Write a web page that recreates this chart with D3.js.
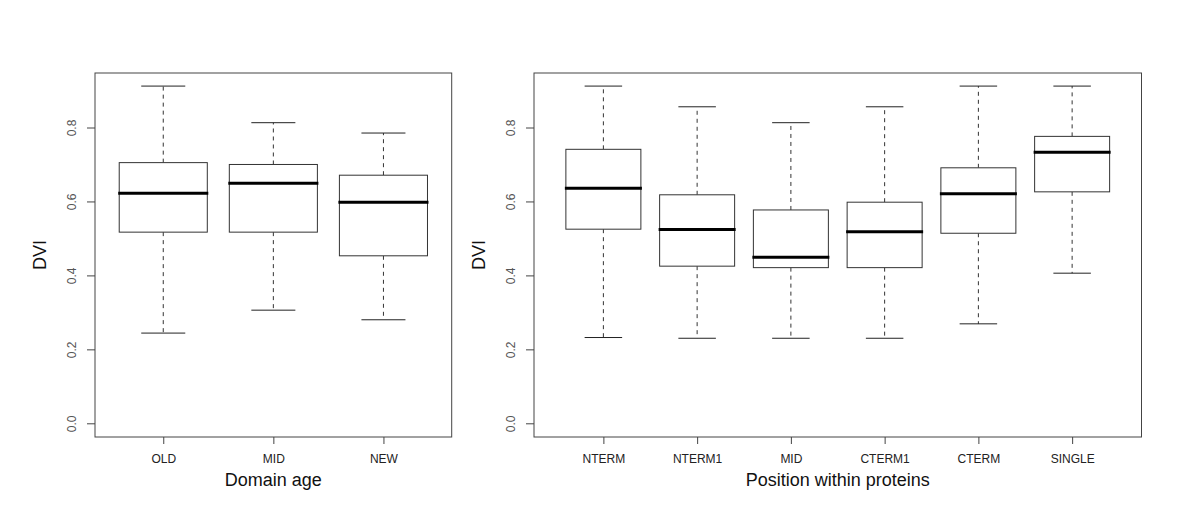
<!DOCTYPE html>
<html>
<head>
<meta charset="utf-8">
<script src="https://cdn.jsdelivr.net/npm/d3@7"></script>
<style>
  body { margin: 0; background: #fff; }
  svg { font-family: "Liberation Sans", Arial, sans-serif; }
</style>
</head>
<body>
<svg id="chart"></svg>
<script>
// Domain age panel
const ageCats = ["OLD", "MID", "NEW"];
const ageLow = [0.244, 0.306, 0.280];
const ageQ1 = [0.517, 0.517, 0.453];
const ageMed = [0.622, 0.649, 0.598];
const ageQ3 = [0.705, 0.700, 0.671];
const ageHigh = [0.912, 0.813, 0.785];

// Position within proteins panel
const posCats = ["NTERM", "NTERM1", "MID", "CTERM1", "CTERM", "SINGLE"];
const posLow = [0.232, 0.230, 0.230, 0.230, 0.269, 0.406];
const posQ1 = [0.525, 0.425, 0.421, 0.421, 0.514, 0.626];
const posMed = [0.636, 0.524, 0.449, 0.518, 0.621, 0.733];
const posQ3 = [0.741, 0.618, 0.577, 0.598, 0.691, 0.776];
const posHigh = [0.912, 0.856, 0.813, 0.856, 0.912, 0.912];

const yTicks = [0, 0.2, 0.4, 0.6, 0.8];

const width = 1200;
const height = 525;
const plotTop = 73, plotBottom = 437;

const svg = d3.select("#chart").attr("width", width).attr("height", height);

// same y scale for both panels (R pads the range by 4%)
const y = d3.scaleLinear()
    .domain([0, 0.8])
    .range([423.3, 127.5]);

function drawPanel(left, right, cats, low, q1, med, q3, high, xTitle) {
    const n = cats.length;
    const x = d3.scaleLinear()
        .domain([0.5 - 0.04 * n, n + 0.5 + 0.04 * n])
        .range([left, right]);
    const unit = x(2) - x(1);
    const boxW = unit * 0.8;
    const capW = boxW / 2;

    const data = cats.map((c, i) => ({
        c, i: i + 1, low: low[i], q1: q1[i], med: med[i], q3: q3[i], high: high[i]
    }));

    const g = svg.append("g");

    // whiskers
    ["high", "low"].forEach(k => {
        const from = k === "high" ? "q3" : "q1";
        g.append("g").selectAll("line").data(data).join("line")
            .attr("x1", d => x(d.i)).attr("x2", d => x(d.i))
            .attr("y1", d => y(d[from])).attr("y2", d => y(d[k]))
            .attr("stroke", "#333").attr("stroke-dasharray", "4,4");
    });

    // caps
    ["high", "low"].forEach(k => {
        g.append("g").selectAll("line").data(data).join("line")
            .attr("x1", d => x(d.i) - capW / 2).attr("x2", d => x(d.i) + capW / 2)
            .attr("y1", d => y(d[k])).attr("y2", d => y(d[k]))
            .attr("stroke", "#222");
    });

    // boxes
    g.append("g").selectAll("rect").data(data).join("rect")
        .attr("x", d => x(d.i) - boxW / 2)
        .attr("y", d => y(d.q3))
        .attr("width", boxW)
        .attr("height", d => y(d.q1) - y(d.q3))
        .attr("fill", "#fff")
        .attr("stroke", "#333");

    // medians
    g.append("g").selectAll("line").data(data).join("line")
        .attr("x1", d => x(d.i) - boxW / 2 - 1).attr("x2", d => x(d.i) + boxW / 2 + 1)
        .attr("y1", d => y(d.med)).attr("y2", d => y(d.med))
        .attr("stroke", "#000").attr("stroke-width", 3);

    // frame
    svg.append("rect")
        .attr("x", left).attr("y", plotTop)
        .attr("width", right - left).attr("height", plotBottom - plotTop)
        .attr("fill", "none").attr("stroke", "#444");

    // x axis
    const xAxis = svg.append("g")
        .attr("transform", `translate(0, ${plotBottom})`)
        .call(d3.axisBottom(x)
            .tickValues(d3.range(1, n + 1))
            .tickFormat(i => cats[i - 1])
            .tickSize(7).tickPadding(10));
    xAxis.select(".domain").remove();
    xAxis.selectAll("line").attr("stroke", "#444");
    xAxis.selectAll("text").attr("font-size", "12px").attr("fill", "#222");

    // y axis
    const yAxis = svg.append("g")
        .attr("transform", `translate(${left}, 0)`)
        .call(d3.axisLeft(y)
            .tickValues(yTicks)
            .tickFormat(d3.format(".1f"))
            .tickSize(8));
    yAxis.select(".domain").remove();
    yAxis.selectAll("line").attr("stroke", "#444");
    yAxis.selectAll("text")
        .attr("x", 0).attr("dy", "0.35em")
        .attr("transform", "translate(-23,0) rotate(-90)")
        .attr("text-anchor", "middle")
        .attr("font-size", "12px").attr("fill", "#555");

    // axis titles
    svg.append("text")
        .attr("x", (left + right) / 2).attr("y", 486)
        .attr("text-anchor", "middle")
        .attr("font-size", "18px").attr("fill", "#111")
        .text(xTitle);
    svg.append("text")
        .attr("transform", `translate(${left - 55}, ${(plotTop + plotBottom) / 2}) rotate(-90)`)
        .attr("dy", "0.35em")
        .attr("text-anchor", "middle")
        .attr("font-size", "18px").attr("fill", "#111")
        .text("DVI");
}

drawPanel(95, 451.7, ageCats, ageLow, ageQ1, ageMed, ageQ3, ageHigh, "Domain age");
drawPanel(534, 1141.5, posCats, posLow, posQ1, posMed, posQ3, posHigh, "Position within proteins");
</script>
</body>
</html>
